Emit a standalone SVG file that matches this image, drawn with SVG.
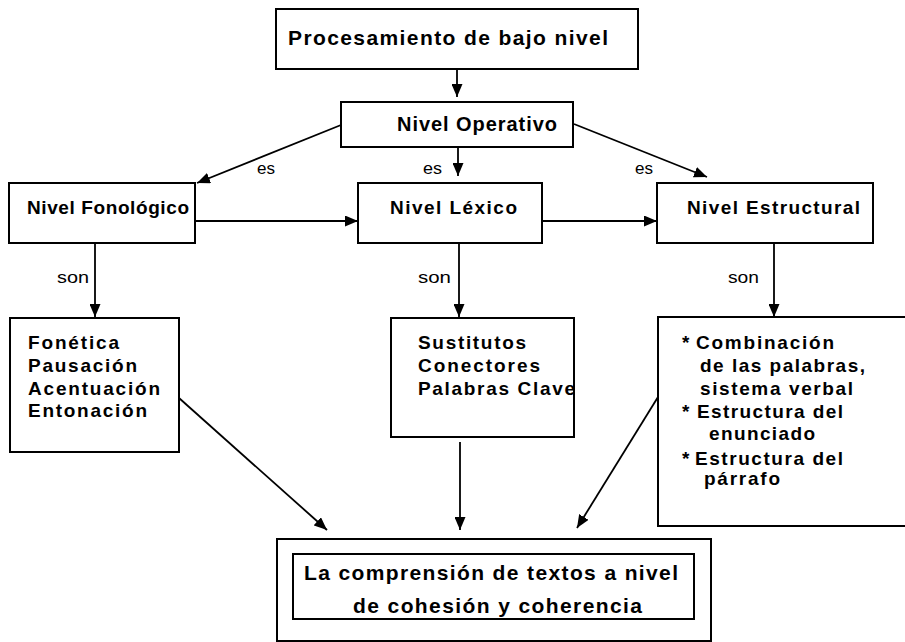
<svg xmlns="http://www.w3.org/2000/svg" width="905" height="642" viewBox="0 0 905 642">
<defs>
<marker id="ah" markerUnits="userSpaceOnUse" markerWidth="13" markerHeight="11" refX="13" refY="5.5" orient="auto">
<path d="M0,0 L13,5.5 L0,11 z" fill="#000"/>
</marker>
<style>
.box{fill:#fff;stroke:#000;stroke-width:2}
.t{font-family:"Liberation Sans",Arial,sans-serif;font-weight:bold;fill:#000}
.l{font-family:"Liberation Sans",Arial,sans-serif;font-size:17px;fill:#000}
.c{fill:none;stroke:#000;stroke-width:1.8;marker-end:url(#ah)}
</style>
</defs>
<rect width="905" height="642" fill="#fff"/>
<g id="connectors">
<line class="c" x1="457" y1="69" x2="457" y2="97"/>
<line class="c" x1="341" y1="125" x2="197" y2="183"/>
<line class="c" x1="458" y1="147" x2="458" y2="176"/>
<line class="c" x1="574" y1="124" x2="707" y2="177"/>
<line class="c" x1="195" y1="221" x2="358" y2="221"/>
<line class="c" x1="542" y1="221" x2="657" y2="221"/>
<line class="c" x1="95" y1="243" x2="95" y2="317"/>
<line class="c" x1="459" y1="243" x2="459" y2="317"/>
<line class="c" x1="774" y1="243" x2="774" y2="317"/>
<line class="c" x1="179" y1="398" x2="327" y2="530"/>
<line class="c" x1="460" y1="442" x2="460" y2="530"/>
<line class="c" x1="658" y1="397" x2="577" y2="528"/>
<text class="l" x="257" y="174" textLength="18" lengthAdjust="spacingAndGlyphs">es</text>
<text class="l" x="423" y="174" textLength="19" lengthAdjust="spacingAndGlyphs">es</text>
<text class="l" x="635" y="174" textLength="18" lengthAdjust="spacingAndGlyphs">es</text>
<text class="l" x="57" y="283" font-size="18" textLength="32" lengthAdjust="spacingAndGlyphs">son</text>
<text class="l" x="418" y="283" font-size="18" textLength="33" lengthAdjust="spacingAndGlyphs">son</text>
<text class="l" x="728" y="283" font-size="18" textLength="31" lengthAdjust="spacingAndGlyphs">son</text>
</g>
<g id="n-procesamiento">
<rect class="box" x="276" y="9" width="362" height="60"/>
<text class="t" x="288" y="45" font-size="21" textLength="320" lengthAdjust="spacing">Procesamiento de bajo nivel</text>
</g>
<g id="n-operativo">
<rect class="box" x="341" y="102" width="232" height="45"/>
<text class="t" x="397" y="131" font-size="20" textLength="160" lengthAdjust="spacing">Nivel Operativo</text>
</g>
<g id="n-fonologico">
<rect class="box" x="9" y="183" width="186" height="60"/>
<text class="t" x="27" y="214" font-size="19" textLength="162" lengthAdjust="spacing">Nivel Fonológico</text>
</g>
<g id="n-lexico">
<rect class="box" x="358" y="183" width="184" height="60"/>
<text class="t" x="390" y="214" font-size="19" textLength="127" lengthAdjust="spacing">Nivel Léxico</text>
</g>
<g id="n-estructural">
<rect class="box" x="657" y="183" width="216" height="60"/>
<text class="t" x="687" y="214" font-size="19" textLength="173" lengthAdjust="spacing">Nivel Estructural</text>
</g>
<g id="n-fonetica">
<rect class="box" x="10" y="318" width="169" height="134"/>
<text class="t" font-size="19">
<tspan x="28" y="349" textLength="91" lengthAdjust="spacing">Fonética</tspan>
<tspan x="28" y="372" textLength="109" lengthAdjust="spacing">Pausación</tspan>
<tspan x="28" y="395" textLength="132" lengthAdjust="spacing">Acentuación</tspan>
<tspan x="28" y="417" textLength="119" lengthAdjust="spacing">Entonación</tspan>
</text>
</g>
<g id="n-sustitutos">
<rect class="box" x="391" y="318" width="183" height="119"/>
<text class="t" font-size="19">
<tspan x="418" y="349" textLength="108" lengthAdjust="spacing">Sustitutos</tspan>
<tspan x="418" y="372" textLength="122" lengthAdjust="spacing">Conectores</tspan>
<tspan x="418" y="395" textLength="157" lengthAdjust="spacing">Palabras Clave</tspan>
</text>
</g>
<g id="n-combinacion">
<rect class="box" x="658" y="317" width="260" height="209"/>
<text class="t" font-size="19">
<tspan x="682" y="349">*</tspan><tspan x="696" y="349" textLength="138" lengthAdjust="spacing">Combinación</tspan>
<tspan x="700" y="372" textLength="165" lengthAdjust="spacing">de las palabras,</tspan>
<tspan x="700" y="395" textLength="153" lengthAdjust="spacing">sistema verbal</tspan>
<tspan x="682" y="418">*</tspan><tspan x="697" y="418" textLength="146" lengthAdjust="spacing">Estructura del</tspan>
<tspan x="709" y="440" textLength="106" lengthAdjust="spacing">enunciado</tspan>
<tspan x="682" y="465">*</tspan><tspan x="695" y="465" textLength="148" lengthAdjust="spacing">Estructura del</tspan>
<tspan x="704" y="485" textLength="76" lengthAdjust="spacing">párrafo</tspan>
</text>
</g>
<g id="n-comprension">
<rect class="box" x="277" y="539" width="434" height="102"/>
<rect class="box" x="293" y="554" width="401" height="65"/>
<text class="t" x="304" y="580" font-size="21" textLength="374" lengthAdjust="spacing">La comprensión de textos a nivel</text>
<text class="t" x="353" y="613" font-size="21" textLength="289" lengthAdjust="spacing">de cohesión y coherencia</text>
</g>
</svg>
